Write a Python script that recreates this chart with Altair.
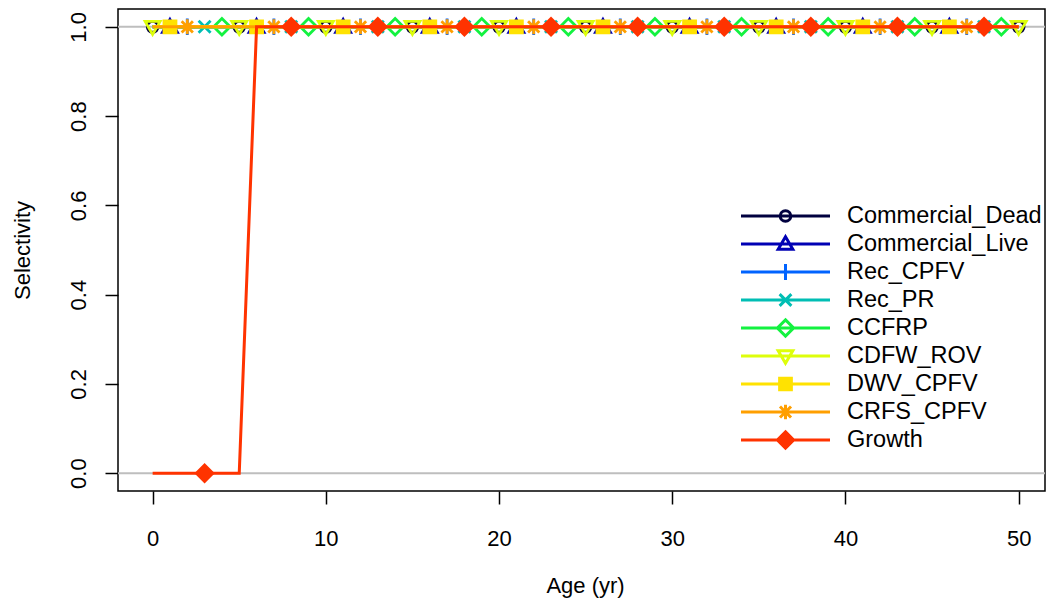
import altair as alt
import pandas as pd

# ---------------- data ----------------
fleets = ["Commercial_Dead", "Commercial_Live", "Rec_CPFV", "Rec_PR", "CCFRP",
          "CDFW_ROV", "DWV_CPFV", "CRFS_CPFV", "Growth"]
colors = ["#00003F", "#0000B4", "#0063FF", "#00BEB4", "#13F240",
          "#DDFE0B", "#FFE201", "#FF9F00", "#FF3300"]

ages = list(range(0, 51))
sel_full = [1.0] * 51
sel_growth = [0.0, 0.0, 0.0, 0.0, 0.0, 0.0] + [1.0] * 45
selectivity = {f: sel_full for f in fleets[:-1]}
selectivity["Growth"] = sel_growth

ref_lines = [0.0, 1.0]
x_ticks = [0, 10, 20, 30, 40, 50]
y_ticks = [0.0, 0.2, 0.4, 0.6, 0.8, 1.0]

# ---------------- marker shapes (R pch 1..9 look) ----------------
def circle(k):
    r = 0.72 * k
    return f"M{r:.3f},0A{r:.3f},{r:.3f} 0 1,1 {-r:.3f},0A{r:.3f},{r:.3f} 0 1,1 {r:.3f},0Z"

def poly(pts, k):
    return "M" + "L".join(f"{x*k:.3f},{y*k:.3f}" for x, y in pts) + "Z"

def seg(a, b, k):
    return f"M{a[0]*k:.3f},{a[1]*k:.3f}L{b[0]*k:.3f},{b[1]*k:.3f}"

def sq(h, k):
    return poly([(-h, -h), (h, -h), (h, h), (-h, h)], k)

def dia(h, k):
    return poly([(0, -h), (h, 0), (0, h), (-h, 0)], k)

def marker(i, k):
    if i == 0:
        return circle(k)
    if i == 1:
        return poly([(0, -1.0), (1.0, 0.72), (-1.0, 0.72)], k)
    if i == 2:
        return seg((-1, 0), (1, 0), k) + seg((0, -1.1), (0, 1.1), k)
    if i == 3:
        return seg((-0.8, -0.8), (0.8, 0.8), k) + seg((-0.8, 0.8), (0.8, -0.8), k)
    if i == 4:
        return dia(1.1, k)
    if i == 5:
        return poly([(0, 1.0), (1.0, -0.72), (-1.0, -0.72)], k)
    if i == 6:
        return (sq(0.8, k) + sq(0.45, k)
                + seg((-0.8, -0.8), (0.8, 0.8), k) + seg((-0.8, 0.8), (0.8, -0.8), k))
    if i == 7:
        return (seg((-1, 0), (1, 0), k) + seg((0, -1), (0, 1), k)
                + seg((-0.75, -0.75), (0.75, 0.75), k) + seg((-0.75, 0.75), (0.75, -0.75), k))
    return (dia(1.1, k) + dia(0.6, k)
            + seg((-1.1, 0), (1.1, 0), k) + seg((0, -1.1), (0, 1.1), k))

plot_shapes = [marker(i, 1.0) for i in range(len(fleets))]
legend_shapes = ["M-1,0H1" + marker(i, 0.165) for i in range(len(fleets))]

# ---------------- table ----------------
rows = []
for i, f in enumerate(fleets):
    off = i % 5
    for a, s in zip(ages, selectivity[f]):
        rows.append({"fleet": f, "age": a, "sel": s, "mk": (a - off) % 5 == 0})
df = pd.DataFrame(rows)

FONT = "Liberation Sans"

leg = alt.Legend(
    title=None, orient="none", legendX=621.5, legendY=193,
    symbolSize=7921, symbolStrokeWidth=3, clipHeight=28, rowPadding=0,
    padding=0, labelOffset=15.5, labelFont=FONT, labelFontSize=23.5,
    labelColor="black", labelLimit=400, symbolOpacity=1,
    symbolFillColor="transparent",
)

xs = alt.Scale(domain=[-2, 51.52], nice=False, zero=False)
ys = alt.Scale(domain=[-0.04, 1.04], nice=False, zero=False)
X = alt.X("age:Q", scale=xs,
          axis=alt.Axis(values=x_ticks, format="d", title="Age (yr)",
                        titleX=467, titleY=94, titleAlign="center",
                        titleBaseline="middle", labelBaseline="alphabetic",
                        labelPadding=41))
Y = alt.Y("sel:Q", scale=ys,
          axis=alt.Axis(values=y_ticks, format=".1f", title="Selectivity",
                        labelAngle=270, labelAlign="center",
                        labelBaseline="alphabetic", labelPadding=20,
                        titleX=-96, titleY=241, titleAngle=270,
                        titleAlign="center", titleBaseline="middle"))
C = alt.Color("fleet:N", scale=alt.Scale(domain=fleets, range=colors), legend=leg)
S_leg = alt.Shape("fleet:N", scale=alt.Scale(domain=fleets, range=legend_shapes), legend=leg)

# legend-only layer first (draws nothing; its scales give the legend entries)
layers = [
    alt.Chart(df).transform_filter("false")
    .mark_point(filled=False, strokeWidth=3, opacity=1)
    .encode(x=X, y=Y, color=C, shape=S_leg),
    alt.Chart(pd.DataFrame({"y": ref_lines})).mark_rule(color="#BEBEBE", strokeWidth=2)
    .encode(y=alt.Y("y:Q", scale=ys)),
]
for i, f in enumerate(fleets):
    d = df[df.fleet == f]
    layers.append(alt.Chart(d).mark_line(strokeWidth=3, opacity=1)
                  .encode(x=X, y=Y, color=C))
    layers.append(alt.Chart(d[d.mk]).mark_point(filled=False, strokeWidth=2.8, size=225,
                                               opacity=1, shape=plot_shapes[i])
                  .encode(x=X, y=Y, color=C))

chart = alt.layer(*layers).properties(
    width=927, height=482,
    autosize=alt.AutoSizeParams(type="none"),
    padding={"left": 110, "top": 1, "right": 1, "bottom": 108},
).configure_view(stroke="black", strokeWidth=1.5).configure_axis(
    grid=False, domain=False, tickSize=13, tickWidth=1.5, tickColor="black",
    labelFont=FONT, labelFontSize=22, labelColor="black",
    titleFont=FONT, titleFontSize=22, titleFontWeight="normal", titleColor="black",
)

chart.save("out.html", embed_options={"renderer": "svg", "actions": False})
